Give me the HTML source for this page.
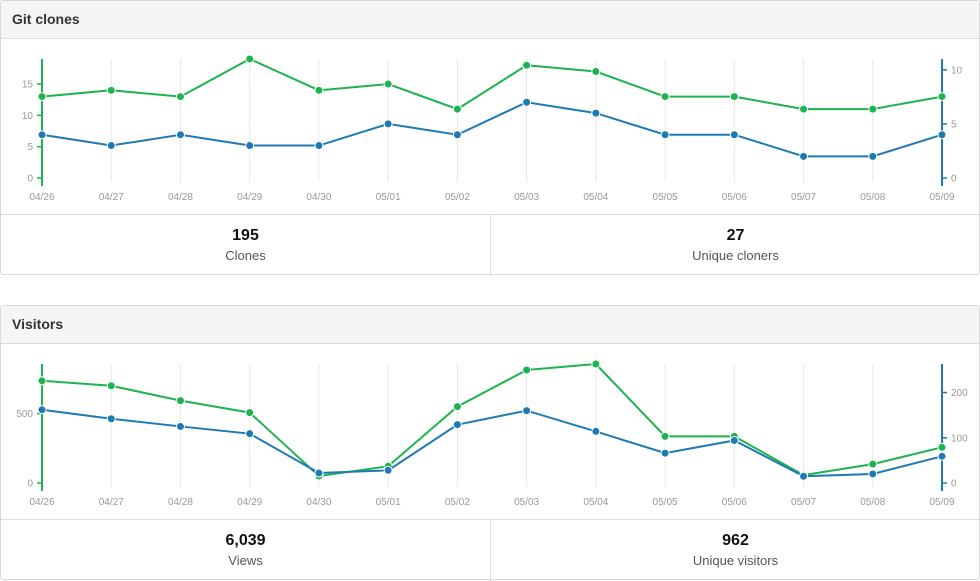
<!DOCTYPE html>
<html><head><meta charset="utf-8">
<style>
body{margin:0;width:980px;height:580px;background:#fff;font-family:"Liberation Sans",Arial,sans-serif;overflow:hidden;position:relative}
.panel{position:absolute;left:0;width:978px;border:1px solid #d8d8d8;border-radius:3px;background:#fff}
.hdr{height:37px;background:#f5f5f5;border-bottom:1px solid #ddd;font-weight:bold;font-size:14px;line-height:37px;padding-left:11px;color:#333}
.chart{position:absolute;left:0;top:38px}
.stats{position:absolute;left:0;top:213px;width:978px;height:61px;border-top:1px solid #ddd}
.stat{position:absolute;top:0;width:489px;height:61px;text-align:center}
.stat b{display:block;font-size:16px;margin-top:12px;color:#111}
.stat span{display:block;font-size:13px;color:#555;margin-top:3px}
</style></head><body>
<div class="panel" style="top:0;height:273px">
<div class="hdr">Git clones</div>
<svg class="chart" id="c1" width="978" height="175"></svg>
<div class="stats"><div class="stat" style="left:0"><b>195</b><span>Clones</span></div><div class="stat" style="left:489px;border-left:1px solid #ddd"><b>27</b><span>Unique cloners</span></div></div>
</div>
<div class="panel" style="top:305px;height:273px">
<div class="hdr">Visitors</div>
<svg class="chart" id="c2" width="978" height="175"></svg>
<div class="stats"><div class="stat" style="left:0"><b>6,039</b><span>Views</span></div><div class="stat" style="left:489px;border-left:1px solid #ddd"><b>962</b><span>Unique visitors</span></div></div>
</div>
<script>
const dates=["04/26","04/27","04/28","04/29","04/30","05/01","05/02","05/03","05/04","05/05","05/06","05/07","05/08","05/09"];
const clones=[13,14,13,19,14,15,11,18,17,13,13,11,11,13];
const uniqueCloners=[4,3,4,3,3,5,4,7,6,4,4,2,2,4];
const clonesLeftTicks=[0,5,10,15];
const clonesRightTicks=[0,5,10];
const views=[736,700,593,507,50,121,550,814,857,336,336,57,136,257];
const uniqueVisitors=[162,142,125,109,22,28,129,160,114,66,94,15,20,59];
const viewsLeftTicks=[0,500];
const viewsRightTicks=[0,100,200];
const G="#1db34f",B="#1f7ab4",NS="http://www.w3.org/2000/svg";
function el(svg,t,a){const e=document.createElementNS(NS,t);for(const k in a)e.setAttribute(k,a[k]);svg.appendChild(e);return e;}
function draw(id,lv,rv,lt,rt,lmax,rmax){
 const svg=document.getElementById(id);
 const x=i=>41+i*(900/(dates.length-1));
 const y0=139,top=20;
 const yl=v=>y0-v*(y0-top)/lmax, yr=v=>y0-v*(y0-top)/rmax;
 dates.forEach((d,i)=>{
  if(i>0&&i<dates.length-1){const g=el(svg,'line',{x1:x(i),x2:x(i),y1:top,y2:y0+4,stroke:'#e8e8e8'});}
  const t=el(svg,'text',{x:x(i),y:y0+22,'text-anchor':'middle','font-size':10,fill:'#999'});t.textContent=d;
  
 });
 const la=el(svg,'line',{x1:41,x2:41,y1:top,y2:y0+8,stroke:G,'stroke-width':2});
 const ra=el(svg,'line',{x1:941,x2:941,y1:top,y2:y0+8,stroke:B,'stroke-width':2});
 lt.forEach(v=>{el(svg,'line',{x1:36,x2:41,y1:yl(v),y2:yl(v),stroke:G,'stroke-width':1.5});const t=el(svg,'text',{x:32,y:yl(v)+3.5,'text-anchor':'end','font-size':10,fill:'#999'});t.textContent=v;});
 rt.forEach(v=>{el(svg,'line',{x1:941,x2:946,y1:yr(v),y2:yr(v),stroke:B,'stroke-width':1.5});const t=el(svg,'text',{x:950,y:yr(v)+3.5,'font-size':10,fill:'#999'});t.textContent=v;});
 [[lv,yl,G,'primary'],[rv,yr,B,'unique']].forEach(([vals,f,c,n])=>{
  const p=el(svg,'polyline',{points:vals.map((v,i)=>x(i)+','+f(v)).join(' '),fill:'none',stroke:c,'stroke-width':2});
  
  vals.forEach((v,i)=>{const d=el(svg,'circle',{cx:x(i),cy:f(v),r:4,fill:c,stroke:'#fff','stroke-width':1});
   });
 });
}
draw('c1',clones,uniqueCloners,clonesLeftTicks,clonesRightTicks,19,11);
draw('c2',views,uniqueVisitors,viewsLeftTicks,viewsRightTicks,857,263);
</script>
</body></html>
